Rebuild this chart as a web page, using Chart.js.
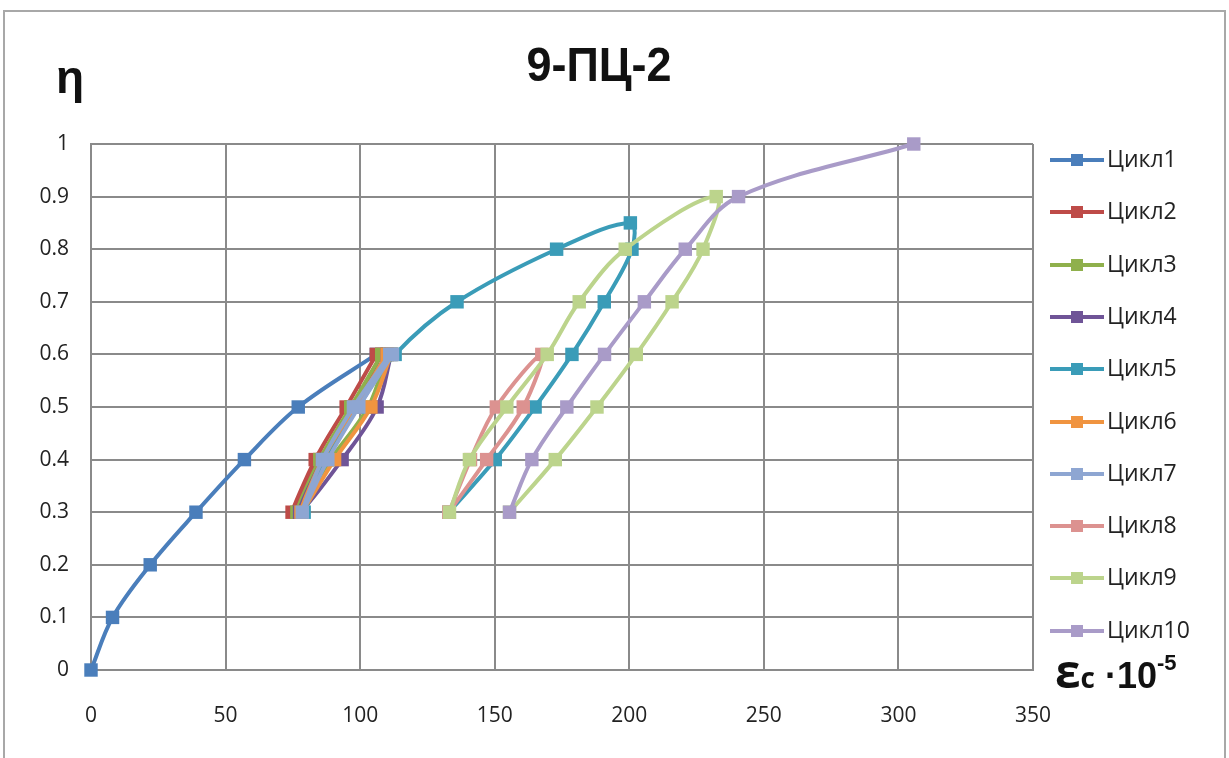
<!DOCTYPE html>
<html><head><meta charset="utf-8">
<script src="https://cdn.jsdelivr.net/npm/chart.js@4.4.0/dist/chart.umd.min.js"></script>
<style>
html,body{margin:0;padding:0;background:#fff;overflow:hidden}
#wrap{position:relative;width:1229px;height:758px;background:#fff}
#frame{position:absolute;left:3px;top:10px;width:1223px;height:770px;border:2px solid #a8a8a8;box-sizing:border-box}
#c{position:absolute;left:0;top:0}
.t{position:absolute;font-family:"Liberation Sans",Arial,sans-serif;color:#111;white-space:nowrap;line-height:1}
#title{left:599px;top:42px;transform:translateX(-50%) scaleY(1.08);font-family:"Liberation Sans Narrow","Liberation Sans",Arial,sans-serif;font-weight:bold;font-size:45px}
#eta{left:56px;top:54px;font-weight:bold;font-size:46px}
#eps{left:1055px;top:647px;font-weight:bold;font-size:46px;font-family:"Open Sans","Liberation Sans",sans-serif}
#eps .s{font-size:28px}
#eps .m{font-size:36px;font-family:"Liberation Sans",Arial,sans-serif;font-weight:bold}
#eps sup{font-size:22px;vertical-align:18px;font-family:"Liberation Sans",Arial,sans-serif;font-weight:bold}
.lg{position:absolute;font-family:"Open Sans","Liberation Sans",Arial,sans-serif;font-size:23px;color:#222;line-height:1}
</style></head>
<body>
<div id="wrap">
<div id="frame"></div>
<canvas id="c" width="1229" height="758"></canvas>
<div class="t" id="title">9-ПЦ-2</div>
<div class="t" id="eta">η</div>
<div class="t" id="eps">ε<span class="s">c</span><span class="m"> ·10</span><sup>-5</sup></div>
<div id="legend"></div>
</div>
<script>
// ---- data ----
const seriesNames = ['Цикл1','Цикл2','Цикл3','Цикл4','Цикл5','Цикл6','Цикл7','Цикл8','Цикл9','Цикл10'];
const seriesColors = ['#4a7ebb','#be4b48','#8fb04c','#6f5497','#3a9cb8','#f09440','#8ea6d2','#dc9290','#bcd48c','#a99bc8'];

const c1Strain = [0, 8, 22, 39, 57, 77, 106];
const c1Eta    = [0, 0.1, 0.2, 0.3, 0.4, 0.5, 0.6];
const c2Strain = [106, 94.8, 83.3, 74.7, 85, 97, 108];
const c2Eta    = [0.6, 0.5, 0.4, 0.3, 0.4, 0.5, 0.6];
const c3Strain = [108, 96.5, 85, 76.5, 89, 103, 110];
const c3Eta    = [0.6, 0.5, 0.4, 0.3, 0.4, 0.5, 0.6];
const c4Strain = [110, 98, 86, 77.5, 93.3, 106.3, 111.5];
const c4Eta    = [0.6, 0.5, 0.4, 0.3, 0.4, 0.5, 0.6];
const c5Strain = [111.5, 98.5, 86.5, 79.2, 87.7, 99.3, 113, 136, 173, 200.4, 201, 190.7, 178.7, 165, 150.2, 133];
const c5Eta    = [0.6, 0.5, 0.4, 0.3, 0.4, 0.5, 0.6, 0.7, 0.8, 0.85, 0.8, 0.7, 0.6, 0.5, 0.4, 0.3];
const c6Strain = [110, 98, 86, 78, 90.5, 104, 111.5];
const c6Eta    = [0.6, 0.5, 0.4, 0.3, 0.4, 0.5, 0.6];
const c7Strain = [111, 97.5, 86, 78.5, 88, 99.5, 112];
const c7Eta    = [0.6, 0.5, 0.4, 0.3, 0.4, 0.5, 0.6];
const c8Strain = [133, 141, 150.6, 167.5, 160.6, 147, 133];
const c8Eta    = [0.3, 0.4, 0.5, 0.6, 0.5, 0.4, 0.3];
const c9Strain = [133.2, 140.6, 154.5, 169.5, 181.4, 198.5, 232.3, 227.4, 215.9, 202.6, 188, 172.5, 155.5];
const c9Eta    = [0.3, 0.4, 0.5, 0.6, 0.7, 0.8, 0.9, 0.8, 0.7, 0.6, 0.5, 0.4, 0.3];
const c10Strain = [155.5, 163.8, 176.8, 190.8, 205.6, 220.8, 240.6, 305.7];
const c10Eta    = [0.3, 0.4, 0.5, 0.6, 0.7, 0.8, 0.9, 1.0];

const xTicks = [0, 50, 100, 150, 200, 250, 300, 350];
const yTicks = [0, 0.1, 0.2, 0.3, 0.4, 0.5, 0.6, 0.7, 0.8, 0.9, 1];

// ---- build ----
const strains = [c1Strain,c2Strain,c3Strain,c4Strain,c5Strain,c6Strain,c7Strain,c8Strain,c9Strain,c10Strain];
const etas = [c1Eta,c2Eta,c3Eta,c4Eta,c5Eta,c6Eta,c7Eta,c8Eta,c9Eta,c10Eta];
const datasets = seriesNames.map((name, i) => ({
  label: name,
  data: strains[i].map((x, k) => ({x: x, y: etas[i][k]})),
  showLine: true,
  clip: false,
  borderColor: seriesColors[i],
  backgroundColor: seriesColors[i],
  pointBackgroundColor: seriesColors[i],
  pointBorderColor: seriesColors[i],
  borderWidth: 4,
  pointStyle: 'rect',
  pointRadius: 9.5,
  pointBorderWidth: 0,
  tension: 0.35,
  order: seriesNames.length - i
}));

const tickFont = {family: '"Open Sans", "Liberation Sans", Arial, sans-serif', size: 21};
new Chart(document.getElementById('c'), {
  type: 'scatter',
  data: {datasets},
  options: {
    responsive: false,
    animation: false,
    events: [],
    layout: {autoPadding: false, padding: {left: 0, top: 144, right: 196, bottom: 0}},
    plugins: {legend: {display: false}, tooltip: {enabled: false}, title: {display: false}},
    scales: {
      x: {
        type: 'linear', min: 0, max: 350,
        afterBuildTicks: s => { s.ticks = xTicks.map(v => ({value: v})); },
        afterFit: s => { s.height = 88; },
        ticks: {font: tickFont, color: '#222', padding: 33, maxRotation: 0, callback: v => String(v)},
        grid: {color: '#8a8a8a', lineWidth: 2, drawTicks: false},
        border: {color: '#8a8a8a', width: 2}
      },
      y: {
        type: 'linear', min: 0, max: 1,
        afterBuildTicks: s => { s.ticks = yTicks.map(v => ({value: v})); },
        afterFit: s => { s.width = 91; },
        ticks: {font: tickFont, color: '#222', padding: 22, callback: v => String(v)},
        grid: {color: '#8a8a8a', lineWidth: 2, drawTicks: false},
        border: {color: '#8a8a8a', width: 2}
      }
    }
  }
});

// legend
const lg = document.getElementById('legend');
seriesNames.forEach((name, i) => {
  const cy = 160 + i * 52.3;
  const line = document.createElement('div');
  line.style.cssText = `position:absolute;left:1050px;top:${cy-2}px;width:54px;height:4px;background:${seriesColors[i]}`;
  const mk = document.createElement('div');
  mk.style.cssText = `position:absolute;left:${1077-6}px;top:${cy-6}px;width:12px;height:12px;background:${seriesColors[i]}`;
  const tx = document.createElement('div');
  tx.className = 'lg';
  tx.textContent = name;
  tx.style.left = '1107px';
  tx.style.top = (cy - 13) + 'px';
  lg.appendChild(line); lg.appendChild(mk); lg.appendChild(tx);
});
</script>
</body></html>
